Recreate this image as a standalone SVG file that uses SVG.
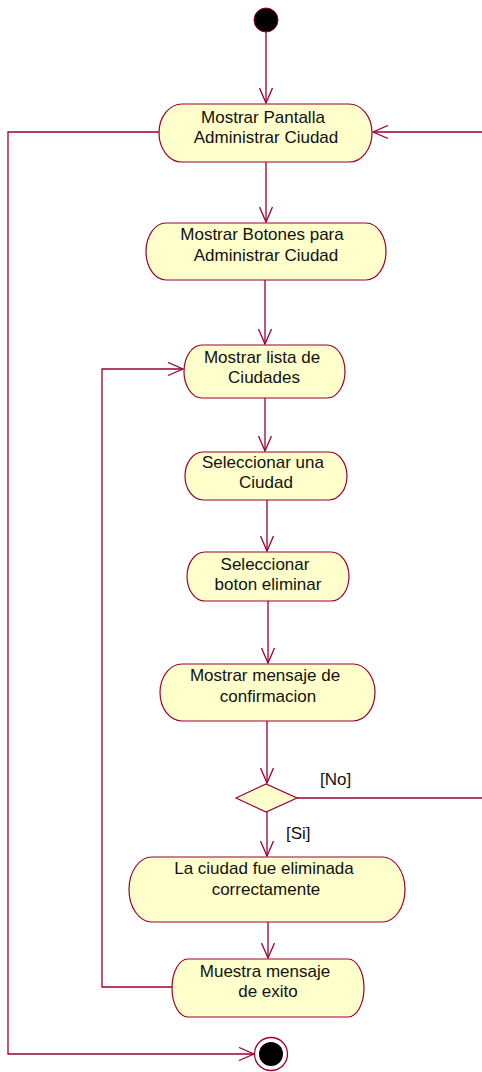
<svg xmlns="http://www.w3.org/2000/svg" width="482" height="1072" viewBox="0 0 482 1072">
  <style>
    .act { fill: #ffffcc; stroke: #990033; stroke-width: 1.2; }
    .lbl { font-family: "Liberation Sans", Arial, sans-serif; font-size: 17px; fill: #111; text-anchor: middle; }
    .guard { font-family: "Liberation Sans", Arial, sans-serif; font-size: 17px; fill: #111; }
    .flow { fill: none; stroke: #990033; stroke-width: 1.3; }
  </style>
  <defs>
    <marker id="open" viewBox="0 0 17 15" refX="16" refY="7.5" markerWidth="17" markerHeight="15" markerUnits="userSpaceOnUse" orient="auto">
      <path d="M1,1 L16,7.5 L1,14" fill="none" stroke="#990033" stroke-width="1.3"/>
    </marker>
  </defs>
  <rect width="482" height="1072" fill="#ffffff"/>

  <!-- connectors -->
  <g id="connectors">
    <line class="flow" x1="266" y1="32" x2="266" y2="103" marker-end="url(#open)"/>
    <line class="flow" x1="266" y1="162" x2="266" y2="222" marker-end="url(#open)"/>
    <line class="flow" x1="265" y1="280" x2="265" y2="344" marker-end="url(#open)"/>
    <line class="flow" x1="265" y1="398" x2="265" y2="451" marker-end="url(#open)"/>
    <line class="flow" x1="267" y1="500" x2="267" y2="551" marker-end="url(#open)"/>
    <line class="flow" x1="268" y1="601" x2="268" y2="663" marker-end="url(#open)"/>
    <line class="flow" x1="267" y1="721" x2="267" y2="783" marker-end="url(#open)"/>
    <line class="flow" x1="267" y1="812" x2="267" y2="856" marker-end="url(#open)"/>
    <line class="flow" x1="268" y1="922" x2="268" y2="958" marker-end="url(#open)"/>
    <!-- [No] branch back to the city screen -->
    <polyline class="flow" points="297,798 482,798"/>
    <line class="flow" x1="482" y1="132" x2="373" y2="132" marker-end="url(#open)"/>
    <!-- success back to the city list -->
    <polyline class="flow" points="172,987 102,987 102,369 183,369" marker-end="url(#open)"/>
    <!-- exit to the final state -->
    <polyline class="flow" points="160,132 8,132 8,1054 254,1054" marker-end="url(#open)"/>
  </g>

  <!-- start -->
  <g id="start">
    <circle cx="266" cy="20" r="12" fill="#000" stroke="#990033" stroke-width="1"/>
  </g>

  <g id="n1">
    <path class="act" d="M182,104 H349 A23,29 0 0 1 349,162 H182 A23,29 0 0 1 182,104 Z"/>
    <text class="lbl" x="263" y="123">Mostrar Pantalla</text>
    <text class="lbl" x="266" y="143">Administrar Ciudad</text>
  </g>

  <g id="n2">
    <path class="act" d="M166,223 H366 A20,28.5 0 0 1 366,280 H166 A20,28.5 0 0 1 166,223 Z"/>
    <text class="lbl" x="262" y="240">Mostrar Botones para</text>
    <text class="lbl" x="266" y="261">Administrar Ciudad</text>
  </g>

  <g id="n3">
    <path class="act" d="M202,345 H327 A18,26.5 0 0 1 327,398 H202 A18,26.5 0 0 1 202,345 Z"/>
    <text class="lbl" x="262" y="363">Mostrar lista de</text>
    <text class="lbl" x="264" y="383">Ciudades</text>
  </g>

  <g id="n4">
    <path class="act" d="M203,452 H329 A18,24 0 0 1 329,500 H203 A18,24 0 0 1 203,452 Z"/>
    <text class="lbl" x="263" y="468">Seleccionar una</text>
    <text class="lbl" x="266" y="488">Ciudad</text>
  </g>

  <g id="n5">
    <path class="act" d="M205,552 H331 A18,24.5 0 0 1 331,601 H205 A18,24.5 0 0 1 205,552 Z"/>
    <text class="lbl" x="265" y="570">Seleccionar</text>
    <text class="lbl" x="268" y="590">boton eliminar</text>
  </g>

  <g id="n6">
    <path class="act" d="M182,664 H353 A22,28.5 0 0 1 353,721 H182 A22,28.5 0 0 1 182,664 Z"/>
    <text class="lbl" x="265" y="681">Mostrar mensaje de</text>
    <text class="lbl" x="268" y="702">confirmacion</text>
  </g>

  <g id="decision">
    <polygon class="act" points="236,798 266,784 297,798 266,812"/>
    <text class="guard" x="320" y="785">[No]</text>
    <text class="guard" x="286" y="839">[Si]</text>
  </g>

  <g id="n7">
    <path class="act" d="M152,857 H382 A23,32.5 0 0 1 382,922 H152 A23,32.5 0 0 1 152,857 Z"/>
    <text class="lbl" x="264" y="874">La ciudad fue eliminada</text>
    <text class="lbl" x="266" y="895">correctamente</text>
  </g>

  <g id="n8">
    <path class="act" d="M188,959 H348 A16,29 0 0 1 348,1017 H188 A16,29 0 0 1 188,959 Z"/>
    <text class="lbl" x="265" y="977">Muestra mensaje</text>
    <text class="lbl" x="268" y="997">de exito</text>
  </g>

  <!-- final state -->
  <g id="end">
    <circle cx="271" cy="1054" r="16.5" fill="#fff" stroke="#990033" stroke-width="1.3"/>
    <circle cx="271" cy="1054" r="12" fill="#000"/>
  </g>
</svg>
